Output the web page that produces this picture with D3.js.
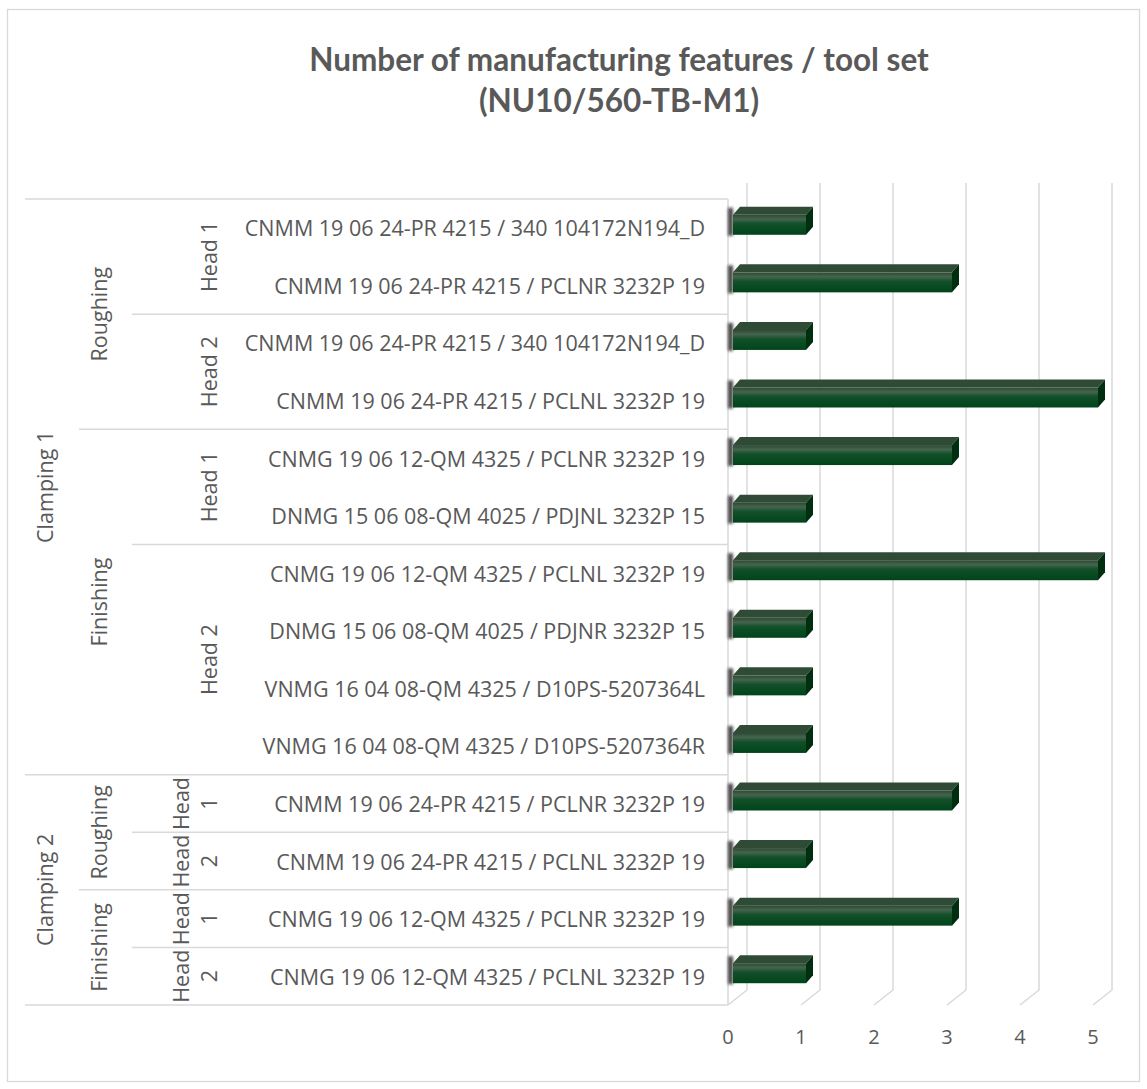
<!DOCTYPE html>
<html>
<head>
<meta charset="utf-8">
<script src="https://cdn.jsdelivr.net/npm/d3@7"></script>
<style>
  body { margin: 0; background: #fff; }
  svg { display: block; }
  .lbl { font-family: "Open Sans", sans-serif; fill: #595959; }
</style>
</head>
<body>
<div id="chart"></div>
<script>
// data, one entry per row (top to bottom)
const clampings = ["Clamping 1","Clamping 1","Clamping 1","Clamping 1","Clamping 1","Clamping 1","Clamping 1","Clamping 1","Clamping 1","Clamping 1","Clamping 2","Clamping 2","Clamping 2","Clamping 2"];
const operations = ["Roughing","Roughing","Roughing","Roughing","Finishing","Finishing","Finishing","Finishing","Finishing","Finishing","Roughing","Roughing","Finishing","Finishing"];
const heads = ["Head 1","Head 1","Head 2","Head 2","Head 1","Head 1","Head 2","Head 2","Head 2","Head 2","Head 1","Head 2","Head 1","Head 2"];
const tools = [
  "CNMM 19 06 24-PR 4215 / 340 104172N194_D",
  "CNMM 19 06 24-PR 4215 / PCLNR 3232P 19",
  "CNMM 19 06 24-PR 4215 / 340 104172N194_D",
  "CNMM 19 06 24-PR 4215 / PCLNL 3232P 19",
  "CNMG 19 06 12-QM 4325 / PCLNR 3232P 19",
  "DNMG 15 06 08-QM 4025 / PDJNL 3232P 15",
  "CNMG 19 06 12-QM 4325 / PCLNL 3232P 19",
  "DNMG 15 06 08-QM 4025 / PDJNR 3232P 15",
  "VNMG 16 04 08-QM 4325 / D10PS-5207364L",
  "VNMG 16 04 08-QM 4325 / D10PS-5207364R",
  "CNMM 19 06 24-PR 4215 / PCLNR 3232P 19",
  "CNMM 19 06 24-PR 4215 / PCLNL 3232P 19",
  "CNMG 19 06 12-QM 4325 / PCLNR 3232P 19",
  "CNMG 19 06 12-QM 4325 / PCLNL 3232P 19"
];
const values = [1, 3, 1, 5, 3, 1, 5, 1, 1, 1, 3, 1, 3, 1];
const xTicks = [0, 1, 2, 3, 4, 5];
const titleLines = ["Number of manufacturing features / tool set", "(NU10/560-TB-M1)"];

const W = 1147, H = 1089;
const frontX = 728, depthX = 19, depthY = -15;   // 3d wall offsets
const plotTop = 199, plotBottom = 1005;

const svg = d3.select("#chart").append("svg").attr("width", W).attr("height", H);
const defs = svg.append("defs");

const grad = defs.append("linearGradient").attr("id", "barFront")
  .attr("x1", 0).attr("y1", 0).attr("x2", 0).attr("y2", 1);
grad.append("stop").attr("offset", "0%").attr("stop-color", "#2c4a33");
grad.append("stop").attr("offset", "22%").attr("stop-color", "#46644d");
grad.append("stop").attr("offset", "45%").attr("stop-color", "#12502a");
grad.append("stop").attr("offset", "100%").attr("stop-color", "#00441a");

defs.append("filter").attr("id", "blur").attr("x", "-100%").attr("width", "300%")
  .append("feGaussianBlur").attr("stdDeviation", 1.8);

// chart border
svg.append("rect").attr("x", 7.5).attr("y", 9.5).attr("width", 1132).attr("height", 1072)
  .attr("fill", "none").attr("stroke", "#d9d9d9").attr("stroke-width", 1.3);

// title
svg.append("text").attr("class", "lbl")
  .attr("x", 619).attr("y", 71)
  .attr("text-anchor", "middle")
  .style("font-family", "Lato, sans-serif").style("font-weight", "bold").style("font-size", "31.5px")
  .selectAll("tspan").data(titleLines).join("tspan")
  .attr("x", 619).attr("dy", (d, i) => i ? 41 : 0)
  .text(d => d);

const x = d3.scaleLinear().domain([0, 5]).range([0, 365]);
const y = d3.scaleBand().domain(d3.range(tools.length)).range([plotTop, plotBottom]);

// grid: back lines + floor diagonals
const grid = svg.append("g").attr("stroke", "#d9d9d9").attr("stroke-width", 1.5).attr("fill", "none");
grid.selectAll("path").data(xTicks).join("path")
  .attr("d", d => `M${frontX + depthX + x(d)},${plotTop + depthY - 1} V${plotBottom + depthY} L${frontX + x(d)},${plotBottom}`);
grid.append("line").attr("x1", frontX).attr("x2", frontX).attr("y1", plotTop).attr("y2", plotBottom);

// category separators
function runs(arr, keyFn) {
  const out = [];
  arr.forEach((v, i) => {
    const k = keyFn(i);
    if (out.length && out[out.length - 1].key === k) out[out.length - 1].end = i;
    else out.push({ key: k, label: v, start: i, end: i });
  });
  return out;
}
const lvl1 = runs(clampings, i => clampings[i]);
const lvl2 = runs(operations, i => clampings[i] + operations[i]);
const lvl3 = runs(heads, i => clampings[i] + operations[i] + heads[i]);

const seps = [{ y: plotTop, x: 25 }, { y: plotBottom, x: 25 }];
lvl1.slice(1).forEach(r => seps.push({ y: y(r.start), x: 25 }));
lvl2.slice(1).forEach(r => { if (!seps.some(s => s.y === y(r.start))) seps.push({ y: y(r.start), x: 79 }); });
lvl3.slice(1).forEach(r => { if (!seps.some(s => s.y === y(r.start))) seps.push({ y: y(r.start), x: 132 }); });
svg.append("g").selectAll("line").data(seps).join("line")
  .attr("x1", d => d.x).attr("x2", frontX)
  .attr("y1", d => d.y).attr("y2", d => d.y)
  .attr("stroke", "#d9d9d9").attr("stroke-width", 1.5);

// category labels
const fs = "21.5px";
svg.append("g").selectAll("text").data(tools).join("text").attr("class", "lbl")
  .attr("x", 705).attr("y", (d, i) => y(i) + y.bandwidth() / 2)
  .attr("text-anchor", "end").attr("dominant-baseline", "central")
  .style("font-size", fs).text(d => d);

// rotated group labels; short groups wrap onto two lines
function rotLabels(data, cx, wrapOffset) {
  const g = svg.append("g");
  data.forEach(r => {
    const cy = (y(r.start) + y(r.end) + y.bandwidth()) / 2;
    const span = (r.end - r.start + 1) * y.bandwidth();
    const words = r.label.split(" ");
    const wrap = span < 70 && words.length > 1;
    const t = g.append("text").attr("class", "lbl")
      .attr("transform", `translate(${wrap ? cx : cx + wrapOffset},${cy}) rotate(-90)`)
      .attr("text-anchor", "middle").style("font-size", fs);
    if (wrap) {
      t.selectAll("tspan").data(words).join("tspan")
        .attr("x", 0).attr("y", (d, i) => i ? 14 : -14)
        .attr("dominant-baseline", "central").text(d => d);
    } else {
      t.attr("dominant-baseline", "central").text(r.label);
    }
  });
}
rotLabels(lvl1, 44, 0);
rotLabels(lvl2, 98, 0);
rotLabels(lvl3, 194, 14);

// bars
const bx = 733, bdx = 7, bdy = -8;
const bars = svg.append("g").selectAll("g").data(values).join("g")
  .attr("transform", (d, i) => `translate(0,${y(i) + y.bandwidth() / 2})`);
bars.append("rect")
  .attr("x", frontX).attr("y", -20).attr("width", 5).attr("height", 28)
  .attr("fill", "#3a3a3a").attr("filter", "url(#blur)").attr("opacity", 0.95);
bars.append("path")
  .attr("d", d => `M${bx},-13 l${bdx},${bdy} H${bx + x(d) + bdx} l${-bdx},${-bdy} Z`)
  .attr("fill", "#2f4b36");
bars.append("path")
  .attr("d", d => `M${bx + x(d)},-13 l${bdx},${bdy} v20 l${-bdx},${-bdy} Z`)
  .attr("fill", "#002f10");
bars.append("rect")
  .attr("x", bx).attr("y", -13).attr("width", d => x(d)).attr("height", 20)
  .attr("fill", "url(#barFront)");

// x tick labels
svg.append("g").selectAll("text").data(xTicks).join("text").attr("class", "lbl")
  .attr("x", d => frontX + x(d)).attr("y", 1044)
  .attr("text-anchor", "middle").style("font-size", "20px")
  .text(d => d);
</script>
</body>
</html>
